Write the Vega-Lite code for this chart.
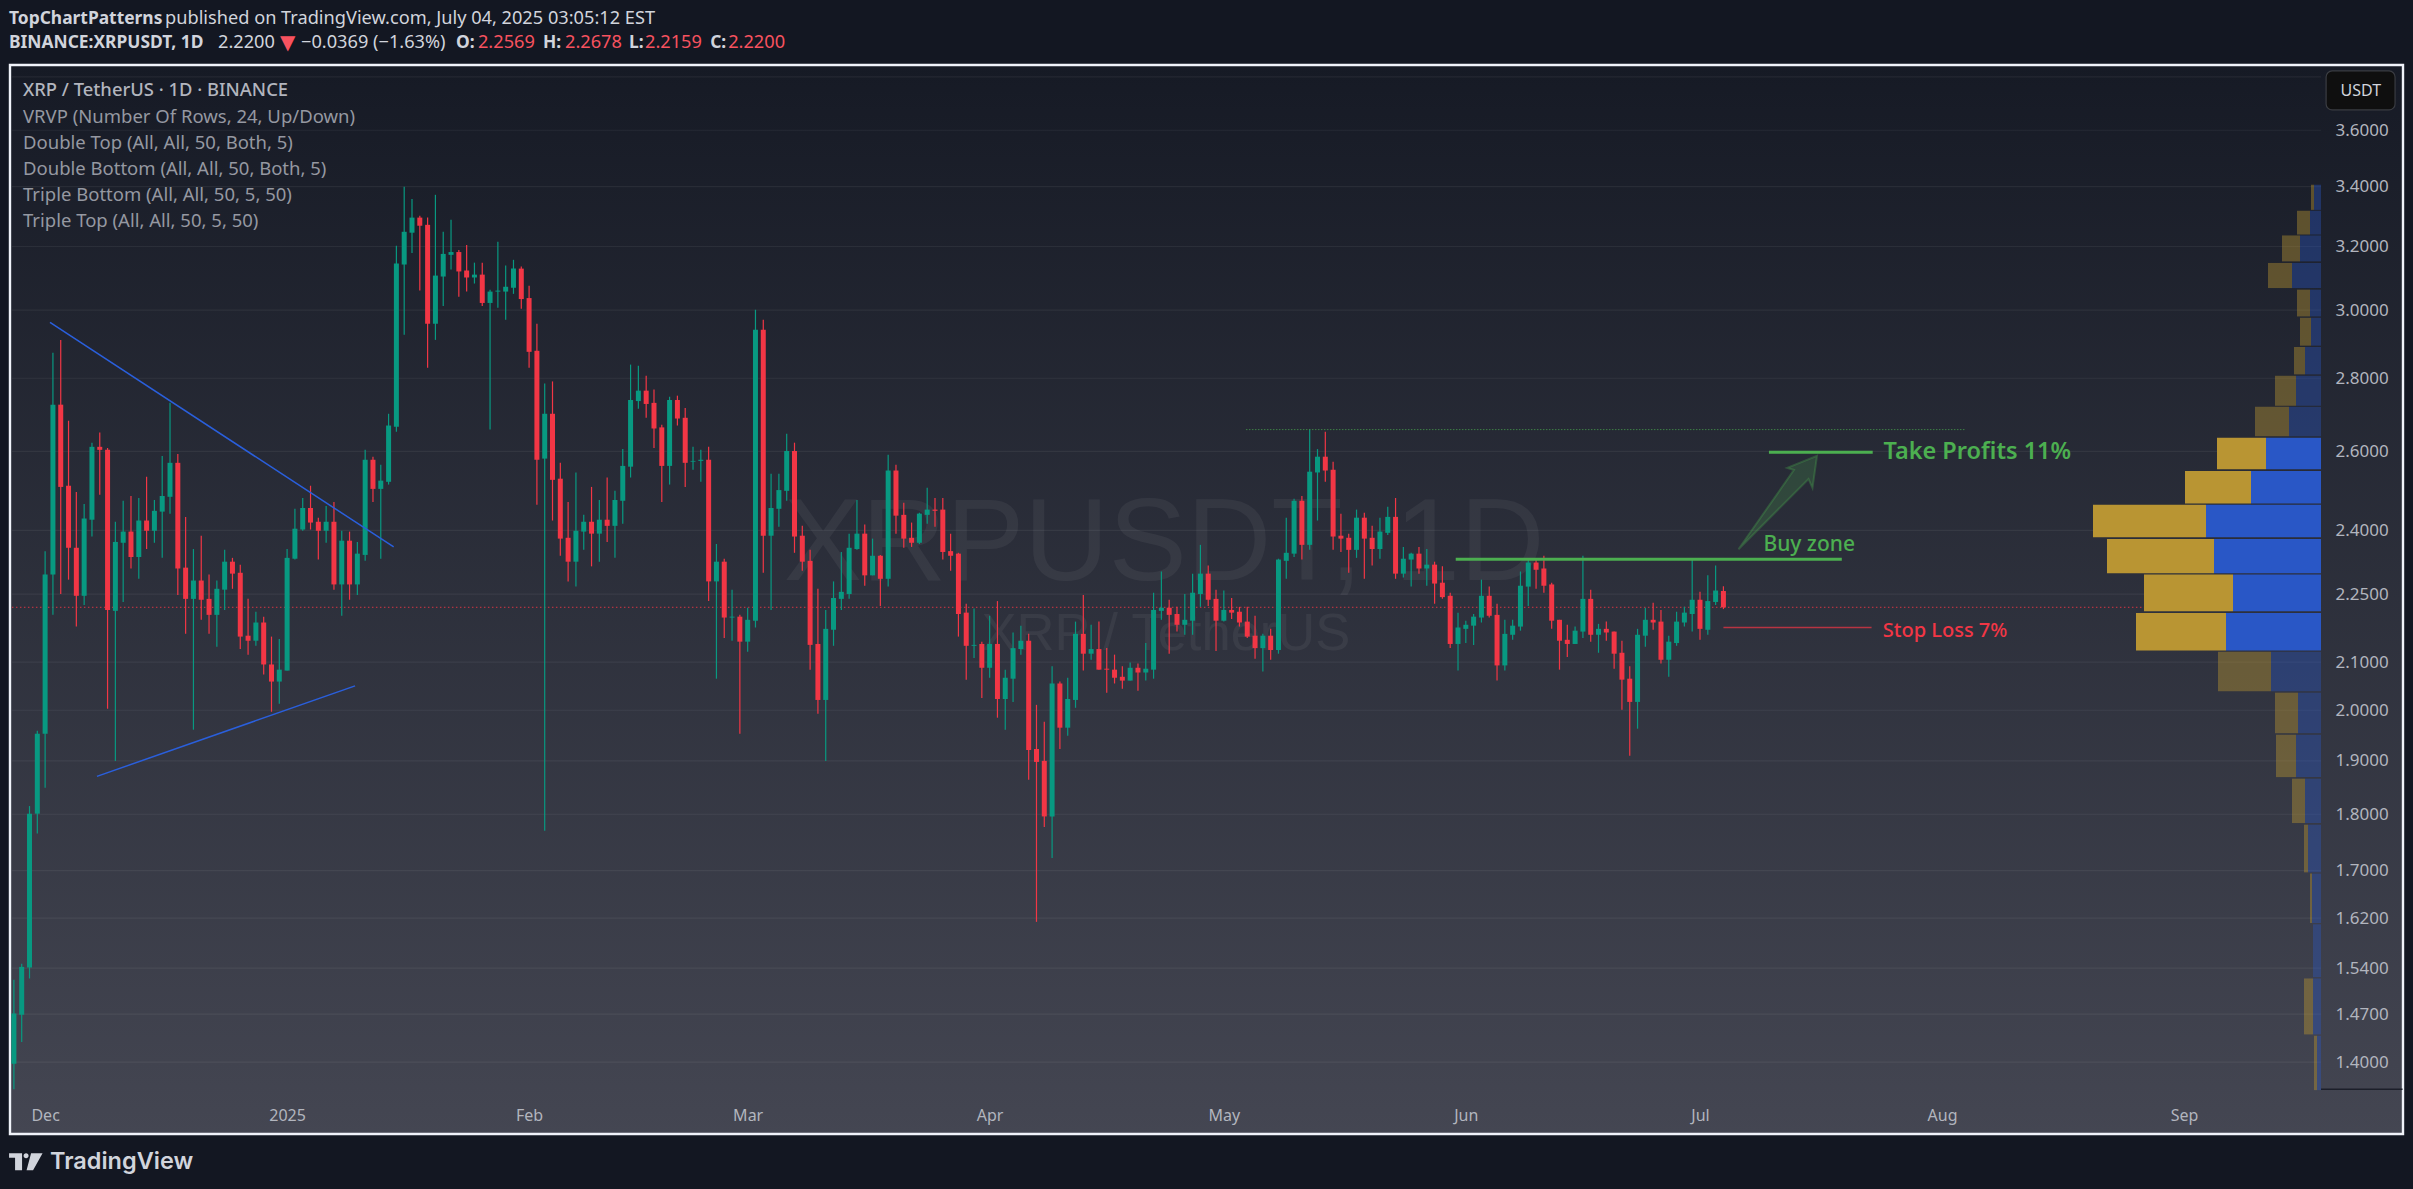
{"$schema":"https://vega.github.io/schema/vega-lite/v6.json","width":2413,"height":1189,"autosize":{"type":"none"},"padding":0,"background":"#131722","config":{"view":{"stroke":null},"text":{"font":"Noto Sans"},"axis":{"labelFont":"Noto Sans"}},"resolve":{"scale":{"x":"independent"}},"encoding":{"y":{"field":"p","type":"quantitative","title":null,"scale":{"type":"log","domain":[1.2312,4.108],"nice":false},"axis":{"orient":"right","offset":-78,"values":[3.6,3.4,3.2,3.0,2.8,2.6,2.4,2.25,2.1,2.0,1.9,1.8,1.7,1.62,1.54,1.47,1.4],"format":".4f","domain":false,"ticks":false,"grid":false,"labelPadding":0,"labelAlign":"left","labelColor":"#b2b5be","labelFontSize":17,"labelOverlap":false,"labelBound":false,"labelFlush":false,"zindex":1,"title":null}}},"layer":[{"encoding":{"x":{"field":"t","type":"temporal","title":null,"scale":{"type":"utc","domain":[1732511820000,1759219800000],"nice":false,"padding":0},"axis":{"orient":"bottom","offset":-82,"values":[1733011200000,1735689600000,1738368000000,1740787200000,1743465600000,1746057600000,1748736000000,1751328000000,1754006400000,1756684800000],"labelExpr":"utcmonth(datum.value)==0 ? '2025' : utcFormat(datum.value,'%b')","domain":false,"ticks":false,"grid":false,"labelPadding":0,"labelColor":"#b2b5be","labelFontSize":16,"labelOverlap":false,"labelBound":false,"labelFlush":false,"zindex":1,"title":null}}},"layer":[{"data":{"values":[{"t":"2024-11-26T12:00Z","t2":"2025-09-29T01:26Z","p":3.846,"p2":1.3018}],"format":{"parse":{"t2":"date"}}},"mark":{"type":"rect","fill":{"gradient":"linear","x1":0,"y1":0,"x2":0,"y2":1,"stops":[{"offset":0,"color":"#161a25"},{"offset":1,"color":"#444652"}]},"stroke":"#f0f3fa","strokeWidth":2.4},"encoding":{"x2":{"field":"t2"},"y2":{"field":"p2"}}},{"data":{"values":[{"t":"2024-11-26T18:00Z","t2":"2025-09-18T13:26Z","p":3.8},{"t":"2024-11-26T18:00Z","t2":"2025-09-18T13:26Z","p":3.6},{"t":"2024-11-26T18:00Z","t2":"2025-09-18T13:26Z","p":3.4},{"t":"2024-11-26T18:00Z","t2":"2025-09-18T13:26Z","p":3.2},{"t":"2024-11-26T18:00Z","t2":"2025-09-18T13:26Z","p":3.0},{"t":"2024-11-26T18:00Z","t2":"2025-09-18T13:26Z","p":2.8},{"t":"2024-11-26T18:00Z","t2":"2025-09-18T13:26Z","p":2.6},{"t":"2024-11-26T18:00Z","t2":"2025-09-18T13:26Z","p":2.4},{"t":"2024-11-26T18:00Z","t2":"2025-09-18T13:26Z","p":2.25},{"t":"2024-11-26T18:00Z","t2":"2025-09-18T13:26Z","p":2.1},{"t":"2024-11-26T18:00Z","t2":"2025-09-18T13:26Z","p":2.0},{"t":"2024-11-26T18:00Z","t2":"2025-09-18T13:26Z","p":1.9},{"t":"2024-11-26T18:00Z","t2":"2025-09-18T13:26Z","p":1.8},{"t":"2024-11-26T18:00Z","t2":"2025-09-18T13:26Z","p":1.7},{"t":"2024-11-26T18:00Z","t2":"2025-09-18T13:26Z","p":1.62},{"t":"2024-11-26T18:00Z","t2":"2025-09-18T13:26Z","p":1.54},{"t":"2024-11-26T18:00Z","t2":"2025-09-18T13:26Z","p":1.47},{"t":"2024-11-26T18:00Z","t2":"2025-09-18T13:26Z","p":1.4}],"format":{"parse":{"t2":"date"}}},"mark":{"type":"rule","color":"#ffffff","opacity":0.06,"strokeWidth":1.2},"encoding":{"x2":{"field":"t2"}}},{"data":{"values":[{"t":"2025-04-23T08:10Z","p":2.365,"s":"XRPUSDT, 1D"}]},"mark":{"type":"text","font":"Liberation Sans","fontSize":117,"color":"#ffffff","opacity":0.05,"align":"center","baseline":"middle"},"encoding":{"text":{"field":"s"}}},{"data":{"values":[{"t":"2025-04-23T14:00Z","p":2.161,"s":"XRP / TetherUS"}]},"mark":{"type":"text","font":"Liberation Sans","fontSize":52.5,"color":"#ffffff","opacity":0.05,"align":"center","baseline":"middle"},"encoding":{"text":{"field":"s"}}},{"data":{"values":[{"t":"2025-09-18T13:26Z","t2":"2025-09-29T00:00Z","p":1.362}],"format":{"parse":{"t2":"date"}}},"mark":{"type":"rule","color":"#1c1f2a","strokeWidth":1.5},"encoding":{"x2":{"field":"t2"}}},{"data":{"values":[{"t":"2024-11-26T18:00Z","t2":"2025-09-18T13:26Z","p":2.22}],"format":{"parse":{"t2":"date"}}},"mark":{"type":"rule","color":"#f23645","strokeWidth":1,"strokeDash":[1.5,2.5],"opacity":0.85},"encoding":{"x2":{"field":"t2"}}},{"data":{"values":[
{"t":"2024-11-27","o":1.398,"h":1.522,"l":1.362,"c":1.471},{"t":"2024-11-28","o":1.469,"h":1.547,"l":1.429,"c":1.542},{"t":"2024-11-29","o":1.541,"h":1.815,"l":1.524,"c":1.801},{"t":"2024-11-30","o":1.801,"h":1.959,"l":1.765,"c":1.953},
{"t":"2024-12-01","o":1.953,"h":2.35,"l":1.849,"c":2.295},{"t":"2024-12-02","o":2.295,"h":2.873,"l":2.203,"c":2.726},{"t":"2024-12-03","o":2.726,"h":2.911,"l":2.25,"c":2.508},{"t":"2024-12-04","o":2.511,"h":2.682,"l":2.283,"c":2.358},{"t":"2024-12-05","o":2.358,"h":2.495,"l":2.177,"c":2.246},{"t":"2024-12-06","o":2.246,"h":2.465,"l":2.225,"c":2.429},{"t":"2024-12-07","o":2.426,"h":2.623,"l":2.385,"c":2.612},{"t":"2024-12-08","o":2.612,"h":2.65,"l":2.488,"c":2.604},{"t":"2024-12-09","o":2.604,"h":2.609,"l":2.003,"c":2.214},{"t":"2024-12-10","o":2.212,"h":2.421,"l":1.9,"c":2.372},{"t":"2024-12-11","o":2.37,"h":2.473,"l":2.232,"c":2.397},{"t":"2024-12-12","o":2.397,"h":2.485,"l":2.309,"c":2.336},{"t":"2024-12-13","o":2.336,"h":2.48,"l":2.285,"c":2.424},{"t":"2024-12-14","o":2.424,"h":2.534,"l":2.355,"c":2.399},{"t":"2024-12-15","o":2.399,"h":2.475,"l":2.37,"c":2.448},{"t":"2024-12-16","o":2.446,"h":2.588,"l":2.334,"c":2.485},{"t":"2024-12-17","o":2.483,"h":2.731,"l":2.441,"c":2.57},{"t":"2024-12-18","o":2.57,"h":2.593,"l":2.248,"c":2.309},{"t":"2024-12-19","o":2.311,"h":2.433,"l":2.161,"c":2.239},{"t":"2024-12-20","o":2.239,"h":2.355,"l":1.961,"c":2.281},{"t":"2024-12-21","o":2.281,"h":2.387,"l":2.192,"c":2.237},{"t":"2024-12-22","o":2.239,"h":2.295,"l":2.161,"c":2.203},{"t":"2024-12-23","o":2.203,"h":2.281,"l":2.133,"c":2.262},{"t":"2024-12-24","o":2.26,"h":2.353,"l":2.214,"c":2.325},{"t":"2024-12-25","o":2.325,"h":2.334,"l":2.262,"c":2.297},{"t":"2024-12-26","o":2.299,"h":2.318,"l":2.128,"c":2.155},{"t":"2024-12-27","o":2.157,"h":2.239,"l":2.116,"c":2.146},{"t":"2024-12-28","o":2.146,"h":2.21,"l":2.135,"c":2.186},{"t":"2024-12-29","o":2.186,"h":2.199,"l":2.074,"c":2.095},{"t":"2024-12-30","o":2.095,"h":2.155,"l":1.997,"c":2.059},{"t":"2024-12-31","o":2.059,"h":2.15,"l":2.013,"c":2.084},
{"t":"2025-01-01","o":2.082,"h":2.355,"l":2.082,"c":2.334},{"t":"2025-01-02","o":2.332,"h":2.453,"l":2.33,"c":2.404},{"t":"2025-01-03","o":2.402,"h":2.48,"l":2.399,"c":2.455},{"t":"2025-01-04","o":2.455,"h":2.511,"l":2.402,"c":2.419},{"t":"2025-01-05","o":2.421,"h":2.431,"l":2.33,"c":2.399},{"t":"2025-01-06","o":2.399,"h":2.46,"l":2.37,"c":2.421},{"t":"2025-01-07","o":2.421,"h":2.47,"l":2.26,"c":2.272},{"t":"2025-01-08","o":2.272,"h":2.399,"l":2.201,"c":2.375},{"t":"2025-01-09","o":2.375,"h":2.397,"l":2.237,"c":2.272},{"t":"2025-01-10","o":2.272,"h":2.372,"l":2.248,"c":2.344},{"t":"2025-01-11","o":2.341,"h":2.604,"l":2.327,"c":2.578},{"t":"2025-01-12","o":2.578,"h":2.586,"l":2.47,"c":2.503},{"t":"2025-01-13","o":2.503,"h":2.565,"l":2.332,"c":2.524},{"t":"2025-01-14","o":2.521,"h":2.701,"l":2.514,"c":2.669},{"t":"2025-01-15","o":2.666,"h":3.202,"l":2.652,"c":3.145},{"t":"2025-01-16","o":3.142,"h":3.4,"l":2.926,"c":3.248},{"t":"2025-01-17","o":3.245,"h":3.358,"l":3.179,"c":3.295},{"t":"2025-01-18","o":3.295,"h":3.301,"l":3.06,"c":3.268},{"t":"2025-01-19","o":3.271,"h":3.295,"l":2.83,"c":2.959},{"t":"2025-01-20","o":2.959,"h":3.372,"l":2.911,"c":3.107},{"t":"2025-01-21","o":3.104,"h":3.248,"l":3.013,"c":3.176},{"t":"2025-01-22","o":3.173,"h":3.288,"l":3.126,"c":3.182},{"t":"2025-01-23","o":3.182,"h":3.189,"l":3.041,"c":3.12},{"t":"2025-01-24","o":3.123,"h":3.205,"l":3.057,"c":3.101},{"t":"2025-01-25","o":3.101,"h":3.148,"l":3.082,"c":3.11},{"t":"2025-01-26","o":3.11,"h":3.148,"l":3.013,"c":3.022},{"t":"2025-01-27","o":3.022,"h":3.063,"l":2.658,"c":3.057},{"t":"2025-01-28","o":3.057,"h":3.215,"l":3.007,"c":3.06},{"t":"2025-01-29","o":3.057,"h":3.139,"l":2.971,"c":3.072},{"t":"2025-01-30","o":3.069,"h":3.157,"l":3.05,"c":3.129},{"t":"2025-01-31","o":3.129,"h":3.136,"l":3.004,"c":3.034},
{"t":"2025-02-01","o":3.037,"h":3.075,"l":2.83,"c":2.876},{"t":"2025-02-02","o":2.879,"h":2.959,"l":2.463,"c":2.578},{"t":"2025-02-03","o":2.581,"h":2.785,"l":1.77,"c":2.701},{"t":"2025-02-04","o":2.701,"h":2.791,"l":2.424,"c":2.526},{"t":"2025-02-05","o":2.529,"h":2.57,"l":2.339,"c":2.38},{"t":"2025-02-06","o":2.382,"h":2.47,"l":2.279,"c":2.325},{"t":"2025-02-07","o":2.325,"h":2.545,"l":2.267,"c":2.399},{"t":"2025-02-08","o":2.397,"h":2.438,"l":2.353,"c":2.421},{"t":"2025-02-09","o":2.421,"h":2.508,"l":2.314,"c":2.392},{"t":"2025-02-10","o":2.392,"h":2.475,"l":2.325,"c":2.426},{"t":"2025-02-11","o":2.426,"h":2.532,"l":2.372,"c":2.411},{"t":"2025-02-12","o":2.411,"h":2.498,"l":2.334,"c":2.475},{"t":"2025-02-13","o":2.473,"h":2.606,"l":2.416,"c":2.562},{"t":"2025-02-14","o":2.56,"h":2.839,"l":2.532,"c":2.739},{"t":"2025-02-15","o":2.736,"h":2.836,"l":2.715,"c":2.765},{"t":"2025-02-16","o":2.765,"h":2.807,"l":2.69,"c":2.728},{"t":"2025-02-17","o":2.731,"h":2.768,"l":2.609,"c":2.661},{"t":"2025-02-18","o":2.664,"h":2.671,"l":2.47,"c":2.562},{"t":"2025-02-19","o":2.562,"h":2.748,"l":2.514,"c":2.739},{"t":"2025-02-20","o":2.739,"h":2.751,"l":2.669,"c":2.688},{"t":"2025-02-21","o":2.69,"h":2.717,"l":2.508,"c":2.57},{"t":"2025-02-22","o":2.573,"h":2.612,"l":2.552,"c":2.575},{"t":"2025-02-23","o":2.575,"h":2.604,"l":2.521,"c":2.578},{"t":"2025-02-24","o":2.578,"h":2.612,"l":2.234,"c":2.279},{"t":"2025-02-25","o":2.279,"h":2.367,"l":2.065,"c":2.325},{"t":"2025-02-26","o":2.325,"h":2.332,"l":2.152,"c":2.197},{"t":"2025-02-27","o":2.197,"h":2.26,"l":2.146,"c":2.199},{"t":"2025-02-28","o":2.199,"h":2.203,"l":1.953,"c":2.144},
{"t":"2025-03-01","o":2.144,"h":2.219,"l":2.122,"c":2.192},{"t":"2025-03-02","o":2.19,"h":3.001,"l":2.175,"c":2.941},{"t":"2025-03-03","o":2.941,"h":2.971,"l":2.299,"c":2.387},{"t":"2025-03-04","o":2.387,"h":2.542,"l":2.214,"c":2.455},{"t":"2025-03-05","o":2.453,"h":2.542,"l":2.409,"c":2.5},{"t":"2025-03-06","o":2.498,"h":2.647,"l":2.473,"c":2.601},{"t":"2025-03-07","o":2.601,"h":2.623,"l":2.346,"c":2.385},{"t":"2025-03-08","o":2.387,"h":2.411,"l":2.304,"c":2.325},{"t":"2025-03-09","o":2.327,"h":2.353,"l":2.084,"c":2.137},{"t":"2025-03-10","o":2.139,"h":2.262,"l":1.993,"c":2.021},{"t":"2025-03-11","o":2.021,"h":2.214,"l":1.9,"c":2.172},{"t":"2025-03-12","o":2.17,"h":2.279,"l":2.135,"c":2.241},{"t":"2025-03-13","o":2.239,"h":2.348,"l":2.214,"c":2.255},{"t":"2025-03-14","o":2.25,"h":2.392,"l":2.239,"c":2.358},{"t":"2025-03-15","o":2.355,"h":2.475,"l":2.353,"c":2.392},{"t":"2025-03-16","o":2.392,"h":2.414,"l":2.269,"c":2.293},{"t":"2025-03-17","o":2.293,"h":2.38,"l":2.293,"c":2.339},{"t":"2025-03-18","o":2.339,"h":2.341,"l":2.223,"c":2.285},{"t":"2025-03-19","o":2.285,"h":2.591,"l":2.267,"c":2.55},{"t":"2025-03-20","o":2.55,"h":2.565,"l":2.392,"c":2.436},{"t":"2025-03-21","o":2.438,"h":2.468,"l":2.358,"c":2.38},{"t":"2025-03-22","o":2.382,"h":2.419,"l":2.36,"c":2.37},{"t":"2025-03-23","o":2.37,"h":2.443,"l":2.367,"c":2.441},{"t":"2025-03-24","o":2.438,"h":2.506,"l":2.416,"c":2.451},{"t":"2025-03-25","o":2.451,"h":2.48,"l":2.409,"c":2.448},{"t":"2025-03-26","o":2.451,"h":2.48,"l":2.33,"c":2.348},{"t":"2025-03-27","o":2.35,"h":2.392,"l":2.304,"c":2.339},{"t":"2025-03-28","o":2.344,"h":2.346,"l":2.155,"c":2.205},{"t":"2025-03-29","o":2.208,"h":2.228,"l":2.063,"c":2.135},{"t":"2025-03-30","o":2.135,"h":2.217,"l":2.109,"c":2.137},{"t":"2025-03-31","o":2.139,"h":2.144,"l":2.025,"c":2.088},
{"t":"2025-04-01","o":2.088,"h":2.201,"l":2.067,"c":2.139},{"t":"2025-04-02","o":2.139,"h":2.234,"l":1.985,"c":2.023},{"t":"2025-04-03","o":2.023,"h":2.084,"l":1.961,"c":2.067},{"t":"2025-04-04","o":2.065,"h":2.164,"l":2.017,"c":2.13},{"t":"2025-04-05","o":2.128,"h":2.179,"l":2.116,"c":2.146},{"t":"2025-04-06","o":2.146,"h":2.161,"l":1.864,"c":1.921},{"t":"2025-04-07","o":1.923,"h":2.011,"l":1.614,"c":1.898},{"t":"2025-04-08","o":1.9,"h":1.977,"l":1.777,"c":1.796},{"t":"2025-04-09","o":1.796,"h":2.091,"l":1.722,"c":2.055},{"t":"2025-04-10","o":2.055,"h":2.059,"l":1.923,"c":1.965},{"t":"2025-04-11","o":1.965,"h":2.067,"l":1.949,"c":2.023},{"t":"2025-04-12","o":2.021,"h":2.188,"l":2.005,"c":2.161},{"t":"2025-04-13","o":2.161,"h":2.248,"l":2.082,"c":2.118},{"t":"2025-04-14","o":2.118,"h":2.181,"l":2.105,"c":2.128},{"t":"2025-04-15","o":2.128,"h":2.188,"l":2.084,"c":2.084},{"t":"2025-04-16","o":2.086,"h":2.13,"l":2.036,"c":2.084},{"t":"2025-04-17","o":2.084,"h":2.116,"l":2.055,"c":2.067},{"t":"2025-04-18","o":2.069,"h":2.091,"l":2.044,"c":2.061},{"t":"2025-04-19","o":2.061,"h":2.099,"l":2.061,"c":2.088},{"t":"2025-04-20","o":2.088,"h":2.097,"l":2.04,"c":2.078},{"t":"2025-04-21","o":2.078,"h":2.141,"l":2.061,"c":2.086},{"t":"2025-04-22","o":2.084,"h":2.253,"l":2.065,"c":2.214},{"t":"2025-04-23","o":2.212,"h":2.302,"l":2.192,"c":2.219},{"t":"2025-04-24","o":2.219,"h":2.237,"l":2.118,"c":2.203},{"t":"2025-04-25","o":2.205,"h":2.221,"l":2.166,"c":2.181},{"t":"2025-04-26","o":2.181,"h":2.25,"l":2.159,"c":2.192},{"t":"2025-04-27","o":2.19,"h":2.297,"l":2.159,"c":2.253},{"t":"2025-04-28","o":2.25,"h":2.365,"l":2.221,"c":2.297},{"t":"2025-04-29","o":2.297,"h":2.316,"l":2.223,"c":2.237},{"t":"2025-04-30","o":2.239,"h":2.26,"l":2.124,"c":2.19},
{"t":"2025-05-01","o":2.19,"h":2.258,"l":2.188,"c":2.214},{"t":"2025-05-02","o":2.214,"h":2.241,"l":2.194,"c":2.208},{"t":"2025-05-03","o":2.21,"h":2.221,"l":2.177,"c":2.186},{"t":"2025-05-04","o":2.188,"h":2.221,"l":2.152,"c":2.155},{"t":"2025-05-05","o":2.157,"h":2.201,"l":2.107,"c":2.13},{"t":"2025-05-06","o":2.13,"h":2.161,"l":2.08,"c":2.157},{"t":"2025-05-07","o":2.157,"h":2.172,"l":2.105,"c":2.126},{"t":"2025-05-08","o":2.126,"h":2.332,"l":2.118,"c":2.33},{"t":"2025-05-09","o":2.327,"h":2.431,"l":2.285,"c":2.346},{"t":"2025-05-10","o":2.344,"h":2.478,"l":2.336,"c":2.473},{"t":"2025-05-11","o":2.473,"h":2.485,"l":2.33,"c":2.365},{"t":"2025-05-12","o":2.365,"h":2.658,"l":2.353,"c":2.547},{"t":"2025-05-13","o":2.545,"h":2.606,"l":2.424,"c":2.586},{"t":"2025-05-14","o":2.586,"h":2.652,"l":2.521,"c":2.55},{"t":"2025-05-15","o":2.552,"h":2.573,"l":2.353,"c":2.385},{"t":"2025-05-16","o":2.387,"h":2.441,"l":2.348,"c":2.38},{"t":"2025-05-17","o":2.382,"h":2.392,"l":2.299,"c":2.353},{"t":"2025-05-18","o":2.353,"h":2.451,"l":2.334,"c":2.431},{"t":"2025-05-19","o":2.431,"h":2.443,"l":2.285,"c":2.38},{"t":"2025-05-20","o":2.382,"h":2.411,"l":2.316,"c":2.355},{"t":"2025-05-21","o":2.355,"h":2.431,"l":2.332,"c":2.397},{"t":"2025-05-22","o":2.394,"h":2.458,"l":2.389,"c":2.433},{"t":"2025-05-23","o":2.433,"h":2.48,"l":2.285,"c":2.297},{"t":"2025-05-24","o":2.297,"h":2.36,"l":2.288,"c":2.332},{"t":"2025-05-25","o":2.33,"h":2.346,"l":2.267,"c":2.344},{"t":"2025-05-26","o":2.344,"h":2.36,"l":2.297,"c":2.309},{"t":"2025-05-27","o":2.309,"h":2.355,"l":2.269,"c":2.318},{"t":"2025-05-28","o":2.318,"h":2.325,"l":2.228,"c":2.274},{"t":"2025-05-29","o":2.276,"h":2.314,"l":2.239,"c":2.243},{"t":"2025-05-30","o":2.246,"h":2.253,"l":2.13,"c":2.139},{"t":"2025-05-31","o":2.139,"h":2.208,"l":2.082,"c":2.175},
{"t":"2025-06-01","o":2.172,"h":2.19,"l":2.141,"c":2.181},{"t":"2025-06-02","o":2.179,"h":2.205,"l":2.137,"c":2.199},{"t":"2025-06-03","o":2.197,"h":2.283,"l":2.186,"c":2.246},{"t":"2025-06-04","o":2.246,"h":2.267,"l":2.197,"c":2.201},{"t":"2025-06-05","o":2.203,"h":2.228,"l":2.061,"c":2.093},{"t":"2025-06-06","o":2.093,"h":2.192,"l":2.082,"c":2.161},{"t":"2025-06-07","o":2.159,"h":2.192,"l":2.148,"c":2.179},{"t":"2025-06-08","o":2.177,"h":2.302,"l":2.168,"c":2.269},{"t":"2025-06-09","o":2.267,"h":2.332,"l":2.223,"c":2.323},{"t":"2025-06-10","o":2.323,"h":2.33,"l":2.262,"c":2.306},{"t":"2025-06-11","o":2.309,"h":2.339,"l":2.253,"c":2.269},{"t":"2025-06-12","o":2.272,"h":2.276,"l":2.172,"c":2.19},{"t":"2025-06-13","o":2.192,"h":2.192,"l":2.084,"c":2.146},{"t":"2025-06-14","o":2.148,"h":2.181,"l":2.111,"c":2.139},{"t":"2025-06-15","o":2.139,"h":2.177,"l":2.139,"c":2.168},{"t":"2025-06-16","o":2.166,"h":2.339,"l":2.152,"c":2.239},{"t":"2025-06-17","o":2.239,"h":2.26,"l":2.144,"c":2.159},{"t":"2025-06-18","o":2.159,"h":2.183,"l":2.12,"c":2.172},{"t":"2025-06-19","o":2.172,"h":2.188,"l":2.146,"c":2.164},{"t":"2025-06-20","o":2.166,"h":2.166,"l":2.086,"c":2.118},{"t":"2025-06-21","o":2.12,"h":2.146,"l":2.001,"c":2.063},{"t":"2025-06-22","o":2.065,"h":2.091,"l":1.91,"c":2.017},{"t":"2025-06-23","o":2.017,"h":2.172,"l":1.963,"c":2.159},{"t":"2025-06-24","o":2.157,"h":2.219,"l":2.133,"c":2.192},{"t":"2025-06-25","o":2.192,"h":2.23,"l":2.17,"c":2.186},{"t":"2025-06-26","o":2.188,"h":2.214,"l":2.097,"c":2.105},{"t":"2025-06-27","o":2.105,"h":2.157,"l":2.069,"c":2.144},{"t":"2025-06-28","o":2.141,"h":2.21,"l":2.135,"c":2.188},{"t":"2025-06-29","o":2.186,"h":2.221,"l":2.177,"c":2.208},{"t":"2025-06-30","o":2.205,"h":2.33,"l":2.166,"c":2.237},
{"t":"2025-07-01","o":2.237,"h":2.255,"l":2.148,"c":2.172},{"t":"2025-07-02","o":2.17,"h":2.293,"l":2.159,"c":2.234},{"t":"2025-07-03","o":2.232,"h":2.316,"l":2.225,"c":2.258},{"t":"2025-07-04","o":2.2569,"h":2.2678,"l":2.2159,"c":2.22}
]},"encoding":{"color":{"condition":{"test":"datum.c >= datum.o","value":"#089981"},"value":"#f23645"}},"layer":[{"mark":{"type":"rule","strokeWidth":1.2},"encoding":{"y":{"field":"l","type":"quantitative","title":null,"scale":{"type":"log","domain":[1.2312,4.108],"nice":false}},"y2":{"field":"h"}}},{"mark":{"type":"bar","size":5},"encoding":{"y":{"field":"o","type":"quantitative","title":null,"scale":{"type":"log","domain":[1.2312,4.108],"nice":false}},"y2":{"field":"c"}}}]},{"data":{"values":[{"t":"2024-12-01T15:00Z","t2":"2025-01-14T15:40Z","p":2.963,"p2":2.36},{"t":"2024-12-07T15:20Z","t2":"2025-01-09T17:00Z","p":1.8704,"p2":2.05}],"format":{"parse":{"t2":"date"}}},"mark":{"type":"rule","color":"#2a5fdc","strokeWidth":1.5},"encoding":{"x2":{"field":"t2"},"y2":{"field":"p2"}}},{"data":{"values":[{"t":"2025-05-03T20:00Z","t2":"2025-08-03T21:30Z","p":2.658}],"format":{"parse":{"t2":"date"}}},"mark":{"type":"rule","color":"#4caf50","strokeWidth":1,"strokeDash":[1.5,1.5],"opacity":0.65},"encoding":{"x2":{"field":"t2"}}},{"data":{"values":[{"t":"2025-05-30T17:00Z","t2":"2025-07-19T04:00Z","p":2.331},{"t":"2025-07-09T20:00Z","t2":"2025-07-23T03:00Z","p":2.598}],"format":{"parse":{"t2":"date"}}},"mark":{"type":"rule","color":"#4caf50","strokeWidth":3},"encoding":{"x2":{"field":"t2"}}},{"data":{"values":[{"t":"2025-07-04T00:00Z","t2":"2025-07-22T23:30Z","p":2.175}],"format":{"parse":{"t2":"date"}}},"mark":{"type":"rule","color":"#f23645","strokeWidth":1.5,"opacity":0.7},"encoding":{"x2":{"field":"t2"}}},{"data":{"values":[{"t":"2025-07-10T23:00Z","p":2.4685}]},"mark":{"type":"point","shape":"M-.785 .933L.325 -.653L.191 -.693L.785 -.933L.695 -.293L.615 -.473Z","size":10000,"filled":true,"fill":"#4caf50","fillOpacity":0.22,"stroke":"#4caf50","strokeOpacity":0.3,"strokeWidth":2,"opacity":1}},{"data":{"values":[{"t":"2025-07-24T12:00Z","p":2.598,"s":"Take Profits 11%"}]},"mark":{"type":"text","fontSize":23.5,"fontWeight":600,"color":"#4caf50","align":"left","baseline":"middle"},"encoding":{"text":{"field":"s"}}},{"data":{"values":[{"t":"2025-07-09T03:00Z","p":2.365,"s":"Buy zone"}]},"mark":{"type":"text","fontSize":21,"fontWeight":500,"color":"#4caf50","align":"left","baseline":"middle"},"encoding":{"text":{"field":"s"}}},{"data":{"values":[{"t":"2025-07-24T10:00Z","p":2.168,"s":"Stop Loss 7%"}]},"mark":{"type":"text","fontSize":20,"fontWeight":500,"color":"#f23645","align":"left","baseline":"middle"},"encoding":{"text":{"field":"s"}}},{"data":{"values":[{"t":"2024-11-28T04:00Z","p":3.75,"s":"XRP / TetherUS · 1D · BINANCE"}]},"mark":{"type":"text","fontSize":18.4,"fontWeight":500,"color":"#b2b5be","align":"left","baseline":"middle"},"encoding":{"text":{"field":"s"}}},{"data":{"values":[{"t":"2024-11-28T04:00Z","p":3.65,"s":"VRVP (Number Of Rows, 24, Up/Down)"},{"t":"2024-11-28T04:00Z","p":3.555,"s":"Double Top (All, All, 50, Both, 5)"},{"t":"2024-11-28T04:00Z","p":3.4626,"s":"Double Bottom (All, All, 50, Both, 5)"},{"t":"2024-11-28T04:00Z","p":3.3726,"s":"Triple Bottom (All, All, 50, 5, 50)"},{"t":"2024-11-28T04:00Z","p":3.2848,"s":"Triple Top (All, All, 50, 5, 50)"}]},"mark":{"type":"text","fontSize":18.5,"color":"#9598a1","align":"left","baseline":"middle"},"encoding":{"text":{"field":"s"}}},{"data":{"values":[{"t":"2024-11-26T09:00Z","p":4.03,"s":"TopChartPatterns"},{"t":"2024-11-26T09:00Z","p":3.933,"s":"BINANCE:XRPUSDT, 1D"},{"t":"2025-01-22T15:00Z","p":3.933,"s":"O:"},{"t":"2025-02-02T18:43Z","p":3.933,"s":"H:"},{"t":"2025-02-13T19:12Z","p":3.933,"s":"L:"},{"t":"2025-02-24T04:48Z","p":3.933,"s":"C:"}]},"mark":{"type":"text","fontSize":17.4,"fontWeight":"bold","color":"#d1d4dc","align":"left","baseline":"middle"},"encoding":{"text":{"field":"s"}}},{"data":{"values":[{"t":"2024-12-16T08:38Z","p":4.03,"s":"published on TradingView.com, July 04, 2025 03:05:12 EST"},{"t":"2024-12-23T03:36Z","p":3.933,"s":"2.2200"},{"t":"2025-01-02T18:43Z","p":3.933,"s":"−0.0369 (−1.63%)"}]},"mark":{"type":"text","fontSize":18.2,"color":"#d1d4dc","align":"left","baseline":"middle"},"encoding":{"text":{"field":"s"}}},{"data":{"values":[{"t":"2024-12-31T02:00Z","p":3.933,"s":"▼"}]},"mark":{"type":"text","font":"DejaVu Sans","fontSize":20,"color":"#f7525f","align":"left","baseline":"middle"},"encoding":{"text":{"field":"s"}}},{"data":{"values":[{"t":"2025-01-25T10:48Z","p":3.933,"s":"2.2569"},{"t":"2025-02-05T14:24Z","p":3.933,"s":"2.2678"},{"t":"2025-02-15T20:24Z","p":3.933,"s":"2.2159"},{"t":"2025-02-26T12:00Z","p":3.933,"s":"2.2200"}]},"mark":{"type":"text","fontSize":18.2,"color":"#f7525f","align":"left","baseline":"middle"},"encoding":{"text":{"field":"s"}}},{"data":{"values":[{"t":"2025-09-19T05:00Z","t2":"2025-09-28T01:00Z","p":3.823,"p2":3.675}],"format":{"parse":{"t2":"date"}}},"mark":{"type":"rect","fill":"#0f0f0f","stroke":"#3a3c42","strokeWidth":1.2,"cornerRadius":6},"encoding":{"x2":{"field":"t2"},"y2":{"field":"p2"}}},{"data":{"values":[{"t":"2025-09-23T16:00Z","p":3.747,"s":"USDT"}]},"mark":{"type":"text","fontSize":16,"color":"#d1d4dc","align":"center","baseline":"middle"},"encoding":{"text":{"field":"s"}}},{"data":{"values":[{"t":"2024-12-01T15:00Z","p":1.2653,"s":"TradingView"}]},"mark":{"type":"text","font":"Inter","fontSize":23.5,"fontWeight":600,"color":"#d1d4dc","align":"left","baseline":"middle"},"encoding":{"text":{"field":"s"}}},{"data":{"values":[{"t":"2024-11-28T12:40Z","p":1.2657}]},"mark":{"type":"point","shape":"M-1 -.507H-.224V.507H-.642V-.239H-1ZM-.135 -.358a.15 .15 0 1 0 .3 0a.15 .15 0 1 0 -.3 0ZM.313 -.507H1L.433 .507H.045Z","size":1122,"filled":true,"fill":"#d1d4dc","opacity":1}}]},{"data":{"values":[
{"p":3.4066,"p2":3.321,"up":7,"total":10,"va":false},{"p":3.318,"p2":3.239,"up":11,"total":24,"va":false},{"p":3.236,"p2":3.152,"up":21,"total":39,"va":false},{"p":3.147,"p2":3.068,"up":29,"total":53,"va":false},{"p":3.063,"p2":2.981,"up":11,"total":24,"va":false},{"p":2.977,"p2":2.894,"up":10,"total":21,"va":false},{"p":2.89,"p2":2.811,"up":16,"total":27,"va":false},{"p":2.807,"p2":2.723,"up":25,"total":46,"va":false},{"p":2.72,"p2":2.64,"up":32,"total":66,"va":false},{"p":2.636,"p2":2.553,"up":55,"total":104,"va":true},{"p":2.549,"p2":2.466,"up":70,"total":136,"va":true},{"p":2.463,"p2":2.383,"up":115,"total":228,"va":true},{"p":2.379,"p2":2.298,"up":107,"total":214,"va":true},{"p":2.295,"p2":2.211,"up":88,"total":177,"va":true},{"p":2.207,"p2":2.125,"up":95,"total":185,"va":true},{"p":2.122,"p2":2.039,"up":50,"total":103,"va":false},{"p":2.036,"p2":1.954,"up":23,"total":46,"va":false},{"p":1.951,"p2":1.869,"up":25,"total":45,"va":false},{"p":1.866,"p2":1.784,"up":16,"total":29,"va":false},{"p":1.781,"p2":1.697,"up":13,"total":17,"va":false},{"p":1.695,"p2":1.612,"up":9,"total":11,"va":false},{"p":1.61,"p2":1.526,"up":8,"total":8,"va":false},{"p":1.524,"p2":1.44,"up":8,"total":17,"va":false},{"p":1.438,"p2":1.361,"up":4,"total":7,"va":false}
]},"encoding":{"x":{"field":"up","type":"quantitative","title":null,"scale":{"domain":[2321,-92],"nice":false,"zero":false},"axis":null},"y2":{"field":"p2"}},"layer":[{"mark":{"type":"rect","color":"#2957c6"},"encoding":{"x2":{"datum":0},"opacity":{"condition":{"test":"datum.va","value":1},"value":0.38}}},{"mark":{"type":"rect","color":"#b99533"},"encoding":{"x2":{"field":"total"},"opacity":{"condition":{"test":"datum.va","value":1},"value":0.42}}}]}]}
